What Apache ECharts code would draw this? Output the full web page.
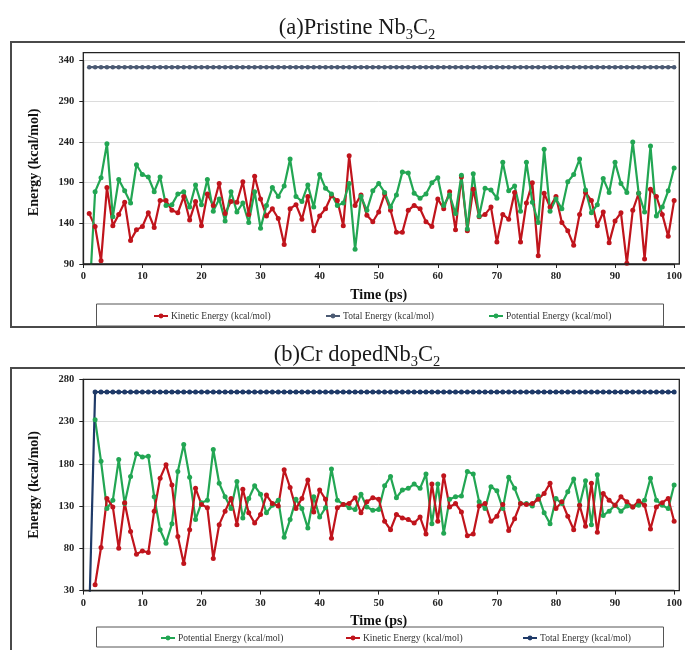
<!DOCTYPE html>
<html>
<head>
<meta charset="utf-8">
<script src="https://cdn.jsdelivr.net/npm/echarts@6/dist/echarts.min.js"></script>
<style>
  html, body { margin: 0; padding: 0; background: #ffffff; }
  #chart { width: 685px; height: 650px; }
</style>
</head>
<body>
<div id="chart"></div>
<script>
// Time axis (ps), one sample every picosecond
const timePs = [];
for (let i = 1; i <= 100; i++) timePs.push(i);

// (a) Pristine Nb3C2 energies, kcal/mol
const pristineKinetic = [
  152,136,94,184,137,151,166,119,132,136,
  153,135,168,168,156,153,173,144,167,137,
  176,162,189,152,167,166,191,151,198,170,
  149,158,146,114,158,163,145,173,131,149,
  158,174,168,137,223,162,175,150,142,154,
  176,156,129,129,156,162,158,142,136,170,
  158,179,132,197,131,182,148,151,160,117,
  151,145,178,117,165,190,100,177,160,173,
  141,131,113,151,178,168,137,154,116,143,
  153,91,156,177,96,182,173,151,124,168
];
const pristineTotal = [
  332,332,332,332,332,332,332,332,332,332,
  332,332,332,332,332,332,332,332,332,332,
  332,332,332,332,332,332,332,332,332,332,
  332,332,332,332,332,332,332,332,332,332,
  332,332,332,332,332,332,332,332,332,332,
  332,332,332,332,332,332,332,332,332,332,
  332,332,332,332,332,332,332,332,332,332,
  332,332,332,332,332,332,332,332,332,332,
  332,332,332,332,332,332,332,332,332,332,
  332,332,332,332,332,332,332,332,332,332
];
const pristinePotential = [
  45,179,196,238,148,194,180,165,212,200,
  197,179,197,162,163,176,179,160,187,163,
  194,155,170,143,179,154,165,141,179,134,
  162,184,173,186,219,173,167,187,160,200,
  183,176,162,165,189,108,173,156,180,189,
  178,160,175,203,202,177,171,176,190,196,
  162,175,152,199,133,201,149,183,181,171,
  215,180,186,155,215,166,141,231,155,170,
  158,191,200,219,181,153,163,195,178,215,
  189,178,240,177,154,235,149,160,180,208
];

// (b) Cr doped Nb3C2 energies, kcal/mol
const dopedPotential = [
  null,232,183,127,137,185,133,165,192,188,
  189,141,102,86,109,171,203,164,114,134,
  137,197,157,141,127,159,116,139,154,144,
  122,131,137,93,114,138,127,104,141,117,
  128,174,137,132,128,126,144,129,125,126,
  154,165,140,149,151,156,151,168,109,156,
  98,138,141,142,171,168,135,127,153,148,
  127,164,151,133,133,130,142,122,109,139,
  133,147,162,131,160,108,167,119,124,131,
  124,130,129,131,137,163,137,131,127,155
];
const dopedKinetic = [
  null,37,81,139,129,80,134,100,73,77,
  75,124,163,179,155,94,62,102,151,132,
  128,68,108,124,139,108,150,122,110,120,
  143,133,130,173,152,127,139,161,123,149,
  138,92,128,132,133,140,122,135,140,138,
  112,102,120,116,114,110,117,97,156,112,
  166,129,133,123,95,97,130,133,112,118,
  132,101,115,133,132,133,138,145,157,127,
  135,118,102,131,106,157,99,145,137,131,
  141,135,129,136,131,103,129,134,139,112
];
const dopedTotal = [
  0,265,265,265,265,265,265,265,265,265,
  265,265,265,265,265,265,265,265,265,265,
  265,265,265,265,265,265,265,265,265,265,
  265,265,265,265,265,265,265,265,265,265,
  265,265,265,265,265,265,265,265,265,265,
  265,265,265,265,265,265,265,265,265,265,
  265,265,265,265,265,265,265,265,265,265,
  265,265,265,265,265,265,265,265,265,265,
  265,265,265,265,265,265,265,265,265,265,
  265,265,265,265,265,265,265,265,265,265
];

// Axis ticks
const timeTicks = { min: 0, max: 100, step: 10 };
const pristineTicks = { min: 90, max: 340, step: 50 };
const dopedTicks = { min: 30, max: 280, step: 50 };

const KINETIC = 'Kinetic Energy (kcal/mol)';
const TOTAL = 'Total Energy (kcal/mol)';
const POTENTIAL = 'Potential Energy (kcal/mol)';

const SERIF = '"Liberation Serif", "Times New Roman", serif';
const RED = '#c0141c';
const GREEN = '#22a653';
const SLATE = '#4b5a73';
const NAVY = '#1f3a68';

function pairs(vals) {
  return timePs.map((t, i) => [t, vals[i]]);
}

function xAxisFor(gridIndex) {
  return {
    gridIndex: gridIndex,
    type: 'value',
    min: timeTicks.min, max: timeTicks.max, interval: timeTicks.step,
    name: 'Time (ps)',
    nameLocation: 'middle',
    nameGap: 24,
    nameTextStyle: { fontFamily: SERIF, fontWeight: 'bold', fontSize: 14, color: '#111' },
    axisLine: { show: true, lineStyle: { color: '#222', width: 1.3 } },
    axisTick: { show: true, length: 4, lineStyle: { color: '#222' } },
    axisLabel: { fontFamily: SERIF, fontWeight: 'bold', fontSize: 10.5, color: '#222', margin: 7 },
    splitLine: { show: false }
  };
}

function yAxisFor(gridIndex, ticks) {
  return {
    gridIndex: gridIndex,
    type: 'value',
    min: ticks.min, max: ticks.max, interval: ticks.step,
    name: 'Energy (kcal/mol)',
    nameLocation: 'middle',
    nameGap: 42,
    nameTextStyle: { fontFamily: SERIF, fontWeight: 'bold', fontSize: 14, color: '#111' },
    axisLine: { show: true, lineStyle: { color: '#222', width: 1.3 } },
    axisTick: { show: true, length: 4, lineStyle: { color: '#222' } },
    axisLabel: { fontFamily: SERIF, fontWeight: 'bold', fontSize: 10.5, color: '#222', margin: 9 },
    splitLine: { show: true, lineStyle: { color: '#dcdcdc', width: 1 } }
  };
}

function lineSeries(name, gridIndex, vals, color, symbolSize) {
  return {
    name: name,
    type: 'line',
    xAxisIndex: gridIndex,
    yAxisIndex: gridIndex,
    data: pairs(vals),
    symbol: 'circle',
    symbolSize: symbolSize,
    showSymbol: true,
    clip: true,
    lineStyle: { color: color, width: 2.2 },
    itemStyle: { color: color },
    emphasis: { disabled: true },
    animation: false
  };
}

function legendItem(name, color, left, top) {
  return {
    data: [{ name: name, itemStyle: { color: color }, lineStyle: { color: color } }],
    left: left, top: top,
    padding: 0,
    itemWidth: 14, itemHeight: 6, itemGap: 0,
    selectedMode: false,
    textStyle: { fontFamily: SERIF, fontSize: 9.5, color: '#333', padding: [0, 0, 0, -2] }
  };
}

function titleText(y, main) {
  return {
    type: 'text', x: 357, y: y,
    style: {
      text: main + 'Nb{s|3}C{s|2}',
      font: '22.5px "Liberation Serif"',
      fill: '#1a1a1a',
      align: 'center', verticalAlign: 'middle',
      rich: { s: { fontSize: 14.5, fontFamily: 'Liberation Serif', padding: [15, 0, 0, 0], verticalAlign: 'bottom', fill: '#1a1a1a' } }
    }
  };
}

const chart = echarts.init(document.getElementById('chart'), null, { renderer: 'canvas' });

chart.setOption({
  backgroundColor: '#ffffff',
  animation: false,
  grid: [
    { left: 83.3, top: 60.7, width: 596, height: 203.3 },
    { left: 83.3, top: 379.3, width: 596, height: 211.3 }
  ],
  xAxis: [xAxisFor(0), xAxisFor(1)],
  yAxis: [yAxisFor(0, pristineTicks), yAxisFor(1, dopedTicks)],
  legend: [
    legendItem(KINETIC, RED, 153, 311),
    legendItem(TOTAL, SLATE, 325, 311),
    legendItem(POTENTIAL, GREEN, 488, 311),
    legendItem(POTENTIAL, GREEN, 160, 633),
    legendItem(KINETIC, RED, 345, 633),
    legendItem(TOTAL, NAVY, 522, 633)
  ],
  series: [
    lineSeries(KINETIC, 0, pristineKinetic, RED, 5),
    lineSeries(TOTAL, 0, pristineTotal, SLATE, 4.5),
    lineSeries(POTENTIAL, 0, pristinePotential, GREEN, 5),
    lineSeries(POTENTIAL, 1, dopedPotential, GREEN, 5),
    lineSeries(KINETIC, 1, dopedKinetic, RED, 5),
    lineSeries(TOTAL, 1, dopedTotal, NAVY, 5)
  ],
  graphic: [
    titleText(28, '(a)Pristine '),
    titleText(355, '(b)Cr doped'),
    // panel outlines
    { type: 'rect', shape: { x: 11, y: 42, width: 700, height: 285 },
      style: { fill: 'none', stroke: '#4a4a4a', lineWidth: 2 }, silent: true },
    { type: 'rect', shape: { x: 11, y: 368, width: 700, height: 300 },
      style: { fill: 'none', stroke: '#4a4a4a', lineWidth: 2 }, silent: true },
    // plot-area frames
    { type: 'rect', shape: { x: 83.3, y: 52.7, width: 596, height: 211.3 },
      style: { fill: 'none', stroke: '#222', lineWidth: 1.3 }, silent: true, z: 50 },
    { type: 'rect', shape: { x: 83.3, y: 379.3, width: 596, height: 211.3 },
      style: { fill: 'none', stroke: '#222', lineWidth: 1.3 }, silent: true, z: 50 },
    // legend boxes
    { type: 'rect', shape: { x: 96.5, y: 304, width: 567, height: 22 },
      style: { fill: 'none', stroke: '#555', lineWidth: 1 }, silent: true },
    { type: 'rect', shape: { x: 96.5, y: 627, width: 567, height: 20 },
      style: { fill: 'none', stroke: '#555', lineWidth: 1 }, silent: true }
  ]
});
</script>
</body>
</html>
